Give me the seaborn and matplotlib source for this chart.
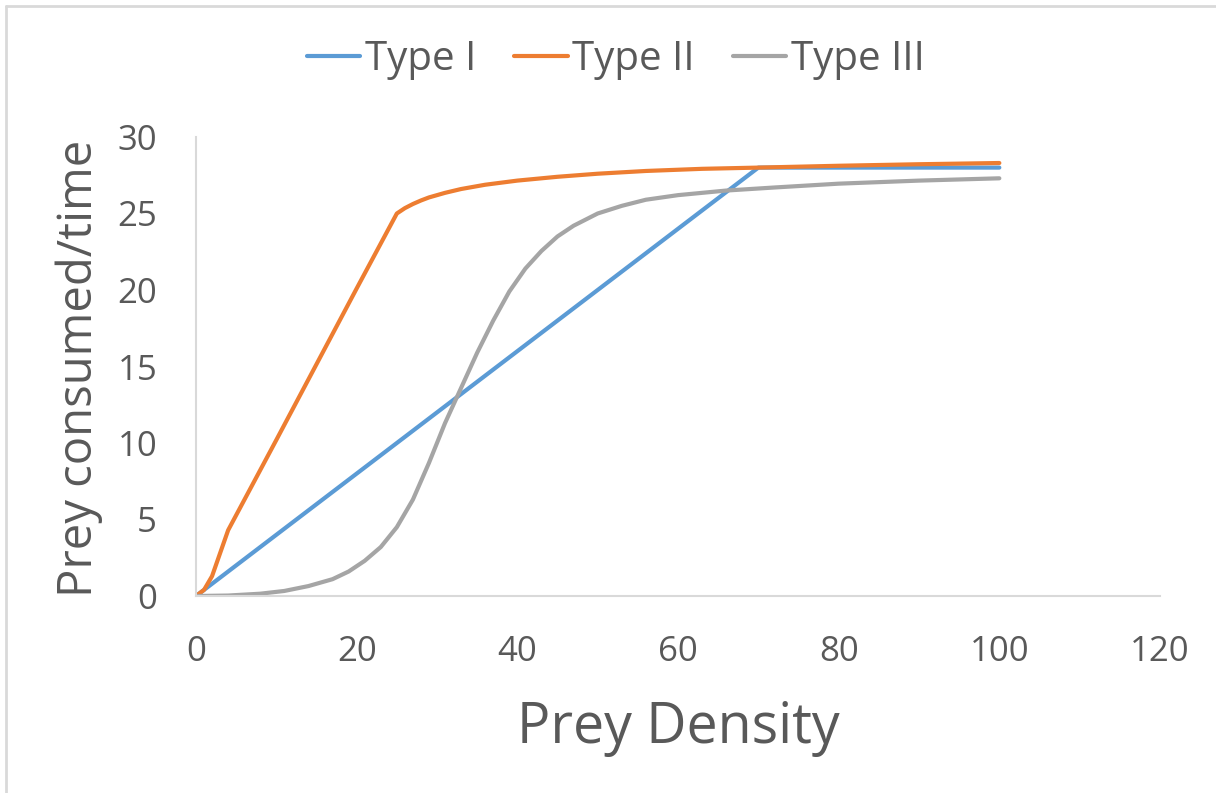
import matplotlib
matplotlib.use("Agg")
import matplotlib.pyplot as plt
import seaborn as sns
import pandas as pd
from matplotlib.lines import Line2D

# ---- data ----
type1_x = [0, 70, 100]
type1_y = [0, 28, 28]

type2_x = [0, 1, 2, 3, 4, 10, 15, 20, 25, 26, 27, 28, 29, 31, 33, 36, 40, 45, 50, 56, 63, 70, 80, 90, 100]
type2_y = [0, 0.4, 1.3, 2.8, 4.3, 10.2, 15.15, 20.1, 25.0, 25.35, 25.62, 25.85, 26.05, 26.35, 26.6,
           26.88, 27.15, 27.4, 27.6, 27.78, 27.92, 28.0, 28.12, 28.22, 28.3]

type3_x = [0, 4, 8, 11, 14, 17, 19, 21, 23, 25, 27, 29, 31, 33, 35, 37, 39, 41, 43, 45, 47, 50,
           53, 56, 60, 66, 72, 80, 90, 100]
type3_y = [0, 0.03, 0.15, 0.33, 0.65, 1.1, 1.6, 2.3, 3.2, 4.5, 6.3, 8.7, 11.3, 13.6, 15.9, 18.0,
           19.9, 21.4, 22.55, 23.5, 24.2, 25.0, 25.5, 25.9, 26.2, 26.5, 26.7, 26.95, 27.15, 27.3]

series_names = ["Type I", "Type II", "Type III"]
x_ticks = [0, 20, 40, 60, 80, 100, 120]
y_ticks = [0, 5, 10, 15, 20, 25, 30]
x_label = "Prey Density"
y_label = "Prey consumed/time"

colors = {"Type I": "#5B9BD5", "Type II": "#ED7D31", "Type III": "#A5A5A5"}

frames = []
for name, xs, ys in zip(series_names, [type1_x, type2_x, type3_x], [type1_y, type2_y, type3_y]):
    frames.append(pd.DataFrame({"x": xs, "y": ys, "series": name}))
df = pd.concat(frames, ignore_index=True)

sns.set_style("white")
plt.rcParams["font.family"] = ["Open Sans", "DejaVu Sans"]
text_color = "#595959"

W, H = 1216, 793
fig = plt.figure(figsize=(W / 100, H / 100), dpi=100)
ax_left, ax_right, ax_top, ax_bottom = 196, 1160, 137, 596
ax = fig.add_axes([ax_left / W, 1 - ax_bottom / H, (ax_right - ax_left) / W, (ax_bottom - ax_top) / H])

sns.lineplot(data=df, x="x", y="y", hue="series", palette=colors, ax=ax,
             linewidth=3.0, sort=False, estimator=None, legend=False)
for l in ax.lines:
    l.set_solid_capstyle("round")
    l.set_solid_joinstyle("round")

ax.set_xlim(0, 120)
ax.set_ylim(0, 30)
ax.set_xticks(x_ticks)
ax.set_yticks(y_ticks)
ax.tick_params(axis="both", length=0, labelsize=25, labelcolor=text_color)
ax.tick_params(axis="x", pad=28)
ax.tick_params(axis="y", pad=28)
for s in ["top", "right"]:
    ax.spines[s].set_visible(False)
for s in ["left", "bottom"]:
    ax.spines[s].set_color("#D9D9D9")
    ax.spines[s].set_linewidth(1.5)
ax.grid(False)

ax.set_xlabel(x_label, fontsize=40, color=text_color)
ax.set_ylabel(y_label, fontsize=34, color=text_color)
ax.xaxis.set_label_coords(0.5, (ax_bottom - 700) / (ax_bottom - ax_top))
ax.yaxis.set_label_coords((103 - ax_left) / (ax_right - ax_left), 0.495)

handles = [Line2D([0], [0], color=colors[n], lw=3.0) for n in series_names]
fig.legend(handles, series_names, loc="center", bbox_to_anchor=(616 / W, 1 - 60 / H),
           ncol=3, frameon=False, fontsize=29, labelcolor=text_color,
           handlelength=1.32, handletextpad=0.12, columnspacing=0.95,
           borderpad=0, borderaxespad=0)

# chart-area border (top and left visible)
fig.add_artist(Line2D([6 / W, 6 / W], [0, 1 - 6 / H], transform=fig.transFigure,
                      color="#D9D9D9", lw=2))
fig.add_artist(Line2D([6 / W, 1], [1 - 6 / H, 1 - 6 / H], transform=fig.transFigure,
                      color="#D9D9D9", lw=2))

fig.savefig("out.png", dpi=100, facecolor="white")
